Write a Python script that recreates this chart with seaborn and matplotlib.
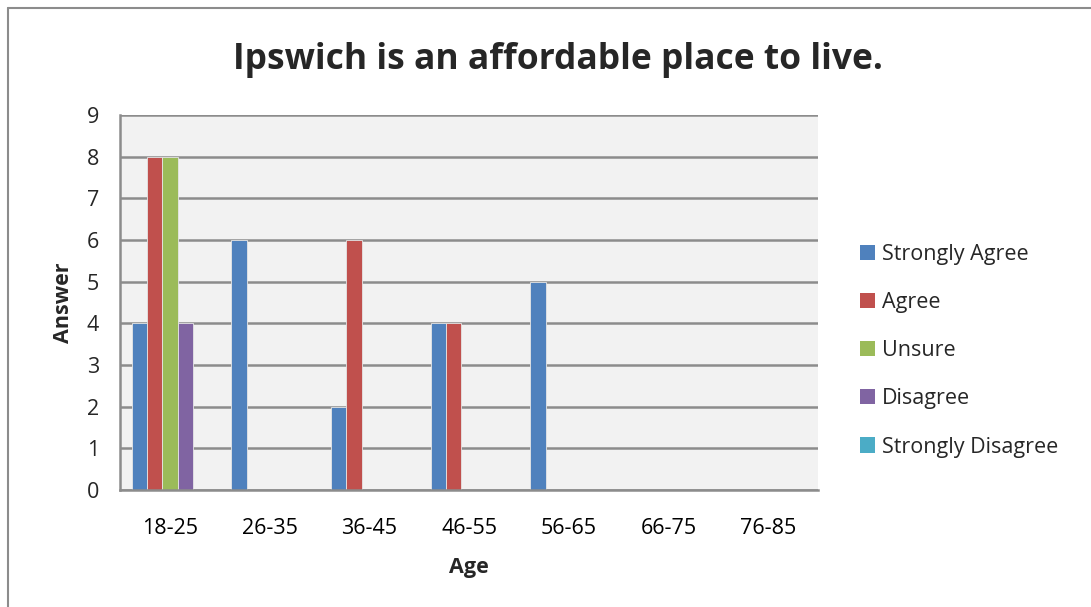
import matplotlib
matplotlib.use("Agg")
import matplotlib.pyplot as plt
import seaborn as sns
import pandas as pd
from matplotlib.patches import Patch
from matplotlib.lines import Line2D

ages = ["18-25", "26-35", "36-45", "46-55", "56-65", "66-75", "76-85"]
strongly_agree = [4, 6, 2, 4, 5, 0, 0]
agree = [8, 0, 6, 4, 0, 0, 0]
unsure = [8, 0, 0, 0, 0, 0, 0]
disagree = [4, 0, 0, 0, 0, 0, 0]
strongly_disagree = [0, 0, 0, 0, 0, 0, 0]
series_names = ["Strongly Agree", "Agree", "Unsure", "Disagree", "Strongly Disagree"]
colors = ["#4F81BD", "#C0504D", "#9BBB59", "#8064A2", "#4BACC6"]

values = [strongly_agree, agree, unsure, disagree, strongly_disagree]
rows = []
for name, vals in zip(series_names, values):
    for a, v in zip(ages, vals):
        rows.append({"Age": a, "Answer": v, "Series": name})
df = pd.DataFrame(rows)

sns.set_theme(style="white")
plt.rcParams['font.family'] = ['Open Sans', 'DejaVu Sans']

fig = plt.figure(figsize=(10.91, 6.07), dpi=100)
ax = fig.add_axes([120/1091, 1-490/607, (818-120)/1091, (490-115)/607])
ax.set_facecolor("#F2F2F2")

sns.barplot(data=df, x="Age", y="Answer", hue="Series", hue_order=series_names,
            order=ages, palette=colors, width=5/6.5, dodge=True, ax=ax,
            edgecolor="#E6E6E6", linewidth=0.6, legend=False, saturation=1)

ax.set_xlim(-0.5, len(ages) - 0.5)
ax.set_ylim(0, 9)
ax.set_yticks(range(0, 10))
ax.yaxis.grid(True, color="#8C8C8C", linewidth=1.8)
ax.set_axisbelow(True)
for s in ["top", "right"]:
    ax.spines[s].set_visible(False)
for s in ["left", "bottom"]:
    ax.spines[s].set_color("#8C8C8C")
    ax.spines[s].set_linewidth(1.8)

ax.set_xticks([i for i in range(len(ages))])
ax.set_xticklabels(ages)
ax.tick_params(axis="x", length=0, labelsize=15.5, pad=20, colors="black")
ax.set_xticks([i - 0.5 for i in range(len(ages) + 1)], minor=True)
ax.tick_params(axis="x", which="minor", length=7, width=1.8, color="#8C8C8C", direction="out")
ax.tick_params(axis="y", length=7, width=1.8, color="#8C8C8C", direction="out", labelsize=15.5, pad=8)

ax.set_xlabel("Age", fontsize=15.5, fontweight="bold", labelpad=13)
ax.set_ylabel("Answer", fontsize=15.5, fontweight="bold", labelpad=9)

fig.text(558/1091, 1-60/607, "Ipswich is an affordable place to live.", ha="center", va="center",
         fontsize=25.5, fontweight="bold")

handles = [Patch(facecolor=c, edgecolor="none") for c in colors]
leg = fig.legend(handles, series_names, loc="upper left", bbox_to_anchor=(860/1091, 1-244/607),
                 frameon=False, fontsize=15.5, handlelength=0.7, handleheight=0.7,
                 handletextpad=0.3, labelspacing=1.26, borderaxespad=0, borderpad=0)

fig.add_artist(Line2D([8/1091, 8/1091], [0, 1-8/607], color="#8C8C8C", linewidth=1.5, transform=fig.transFigure))
fig.add_artist(Line2D([8/1091, 1], [1-8/607, 1-8/607], color="#8C8C8C", linewidth=1.5, transform=fig.transFigure))

fig.savefig("out.png", dpi=100)
